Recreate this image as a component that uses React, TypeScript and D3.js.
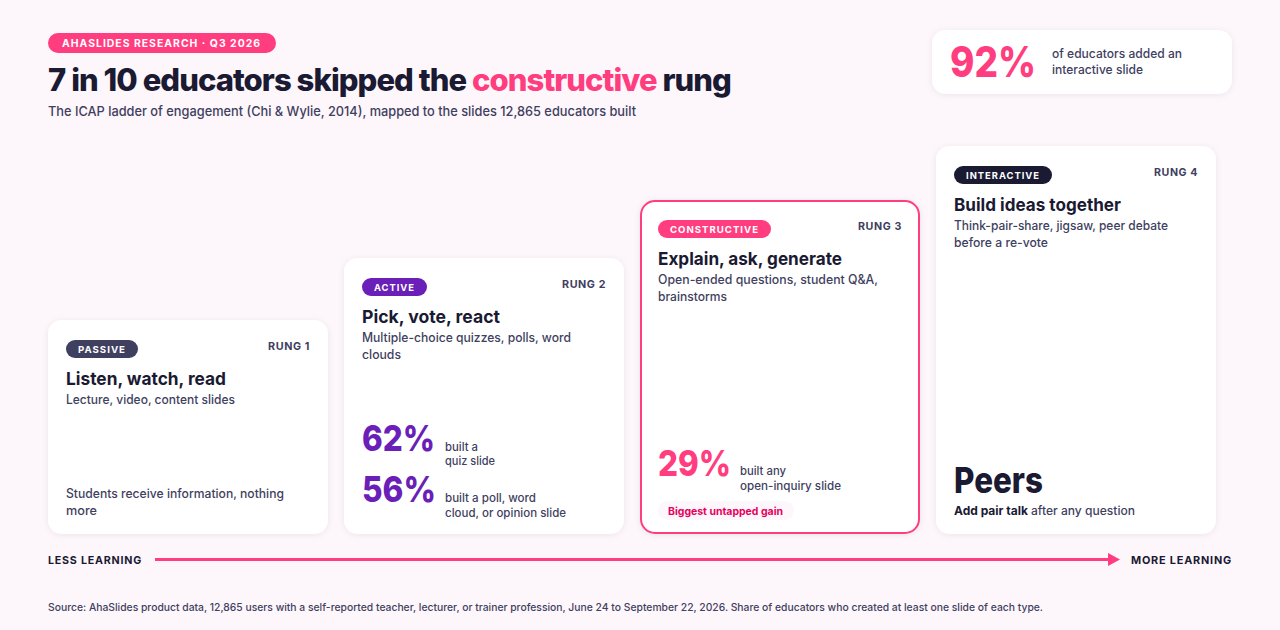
import React from 'react';
import * as d3 from 'd3';

const rungNumbers = [1, 2, 3, 4];
const rungBadges = ['PASSIVE', 'ACTIVE', 'CONSTRUCTIVE', 'INTERACTIVE'];
const rungHeadings = ['Listen, watch, read', 'Pick, vote, react', 'Explain, ask, generate', 'Build ideas together'];
const rungDescriptions = [
  ['Lecture, video, content slides'],
  ['Multiple-choice quizzes, polls, word', 'clouds'],
  ['Open-ended questions, student Q&A,', 'brainstorms'],
  ['Think-pair-share, jigsaw, peer debate', 'before a re-vote'],
];
const quizShare = 62;
const pollShare = 56;
const inquiryShare = 29;
const interactiveShare = 92;

const PINK = '#ff3d7f';
const DARK = '#1a1a33';
const SLATE = '#3f3f5f';
const PURPLE = '#6a1fb8';
const BG = '#fdf6fb';
const FONT = 'Inter, "Noto Sans", sans-serif';

const badgeColors = [SLATE, PURPLE, PINK, DARK];
const badgeWidths = [72, 65, 113, 98];
const badgeTextWidths = [48, 41, 89, 74];
const headingWidths = [160, 138, 184, 167];
const descWidths = [[169], [209, 39], [220, 69], [214, 94]];
const rungLabelWidths = [42, 44, 44, 44];

const x = d3.scaleBand<number>().domain(rungNumbers).range([48, 1216]).paddingInner(16 / 296);
const cardTop = d3.scaleOrdinal<number, number>().domain(rungNumbers).range([320, 258, 200, 146]);
const CARD_BOTTOM = 534;
const pct = (v: number) => `${v}%`;

type TProps = {
  x: number;
  y: number;
  w?: number;
  size: number;
  weight?: number;
  fill?: string;
  anchor?: string;
  ls?: number;
  children: React.ReactNode;
};

const T = ({ x, y, w, size, weight = 500, fill = SLATE, anchor = 'start', ls = 0, children }: TProps) => (
  <text
    x={x}
    y={y}
    fontFamily={FONT}
    fontSize={size}
    fontWeight={weight}
    fill={fill}
    textAnchor={anchor}
    letterSpacing={ls}
    textLength={w}
    lengthAdjust={w ? 'spacingAndGlyphs' : undefined}
  >
    {children}
  </text>
);

const App = () => {
  return (
    <svg
      width={1280}
      height={630}
      style={{ position: 'absolute', left: 0, top: 0, display: 'block', background: BG }}
    >
      <defs>
        <filter id="soft" x="-10%" y="-10%" width="120%" height="120%">
          <feDropShadow dx="0" dy="1" stdDeviation="3" floodColor="#1a1a33" floodOpacity="0.07" />
        </filter>
      </defs>

      {/* header */}
      <rect x={48} y={33} width={228} height={20} rx={10} fill={PINK} />
      <T x={62} y={47} w={199} size={10.5} weight={700} fill="#fff" ls={1}>AHASLIDES RESEARCH · Q3 2026</T>
      <T x={48} y={91} size={31} weight={800} fill={DARK} ls={-0.94}>
        7 in 10 educators skipped the <tspan fill={PINK}>constructive</tspan> rung
      </T>
      <T x={48} y={116} w={588} size={13.5}>The ICAP ladder of engagement (Chi &amp; Wylie, 2014), mapped to the slides 12,865 educators built</T>

      {/* headline stat */}
      <rect x={932} y={30} width={300} height={64} rx={14} fill="#fff" filter="url(#soft)" />
      <T x={950} y={77} w={86} size={42} weight={800} fill={PINK}>{pct(interactiveShare)}</T>
      <T x={1052} y={58} w={130} size={12.5}>of educators added an</T>
      <T x={1052} y={74} w={91} size={12.5}>interactive slide</T>

      {/* ladder cards */}
      {rungNumbers.map((r, i) => {
        const cx = x(r) as number;
        const top = cardTop(r);
        const isConstructive = r === 3;
        return (
          <g key={r}>
            <rect
              x={isConstructive ? cx + 1 : cx}
              y={isConstructive ? top + 1 : top}
              width={isConstructive ? x.bandwidth() - 2 : x.bandwidth()}
              height={isConstructive ? CARD_BOTTOM - top - 2 : CARD_BOTTOM - top}
              rx={14}
              fill="#fff"
              stroke={isConstructive ? PINK : 'none'}
              strokeWidth={2}
              filter="url(#soft)"
            />
            <rect x={cx + 18} y={top + 20} width={badgeWidths[i]} height={18} rx={9} fill={badgeColors[i]} />
            <T x={cx + 30} y={top + 33} w={badgeTextWidths[i]} size={9.5} weight={700} fill="#fff" ls={1}>{rungBadges[i]}</T>
            <T x={cx + 262} y={top + 30} w={rungLabelWidths[i]} size={11} weight={700} anchor="end" ls={0.6}>{`RUNG ${r}`}</T>
            <T x={cx + 18} y={top + 65} w={headingWidths[i]} size={18} weight={700} fill={DARK}>{rungHeadings[i]}</T>
            {rungDescriptions[i].map((line, j) => (
              <T key={j} x={cx + 18} y={top + 84 + j * 17} w={descWidths[i][j]} size={12.5}>{line}</T>
            ))}
          </g>
        );
      })}

      {/* rung 1 note */}
      <T x={66} y={498} w={218} size={12.5}>Students receive information, nothing</T>
      <T x={66} y={515} w={31} size={12.5}>more</T>

      {/* rung 2 stats */}
      <T x={362} y={451} w={73} size={36} weight={800} fill={PURPLE}>{pct(quizShare)}</T>
      <T x={445} y={451} w={33} size={11.5}>built a</T>
      <T x={445} y={465} w={50} size={11.5}>quiz slide</T>
      <T x={362} y={502} w={74} size={36} weight={800} fill={PURPLE}>{pct(pollShare)}</T>
      <T x={445} y={502} w={91} size={11.5}>built a poll, word</T>
      <T x={445} y={517} w={121} size={11.5}>cloud, or opinion slide</T>

      {/* rung 3 stat */}
      <T x={658} y={476} w={73} size={36} weight={800} fill={PINK}>{pct(inquiryShare)}</T>
      <T x={740} y={475} w={46} size={11.5}>built any</T>
      <T x={740} y={490} w={101} size={11.5}>open-inquiry slide</T>
      <rect x={658} y={501} width={136} height={19} rx={9.5} fill={BG} />
      <T x={668} y={515} w={115} size={10.5} weight={700} fill="#e6005c">Biggest untapped gain</T>

      {/* rung 4 */}
      <T x={954} y={493} w={89} size={36} weight={800} fill={DARK}>Peers</T>
      <T x={954} y={515} w={74} size={12} weight={700} fill={DARK}>Add pair talk</T>
      <T x={1031} y={515} w={104} size={12}>after any question</T>

      {/* learning arrow */}
      <T x={48} y={564} w={94} size={11} weight={700} fill={DARK} ls={0.8}>LESS LEARNING</T>
      <line x1={155} x2={1110} y1={559.5} y2={559.5} stroke={PINK} strokeWidth={3} />
      <path d="M1108,553 L1120,559.5 L1108,566 Z" fill={PINK} />
      <T x={1131} y={564} w={101} size={11} weight={700} fill={DARK} ls={0.8}>MORE LEARNING</T>

      {/* source */}
      <T x={48} y={611} w={995} size={10.5}>Source: AhaSlides product data, 12,865 users with a self-reported teacher, lecturer, or trainer profession, June 24 to September 22, 2026. Share of educators who created at least one slide of each type.</T>
    </svg>
  );
};

export default App;
